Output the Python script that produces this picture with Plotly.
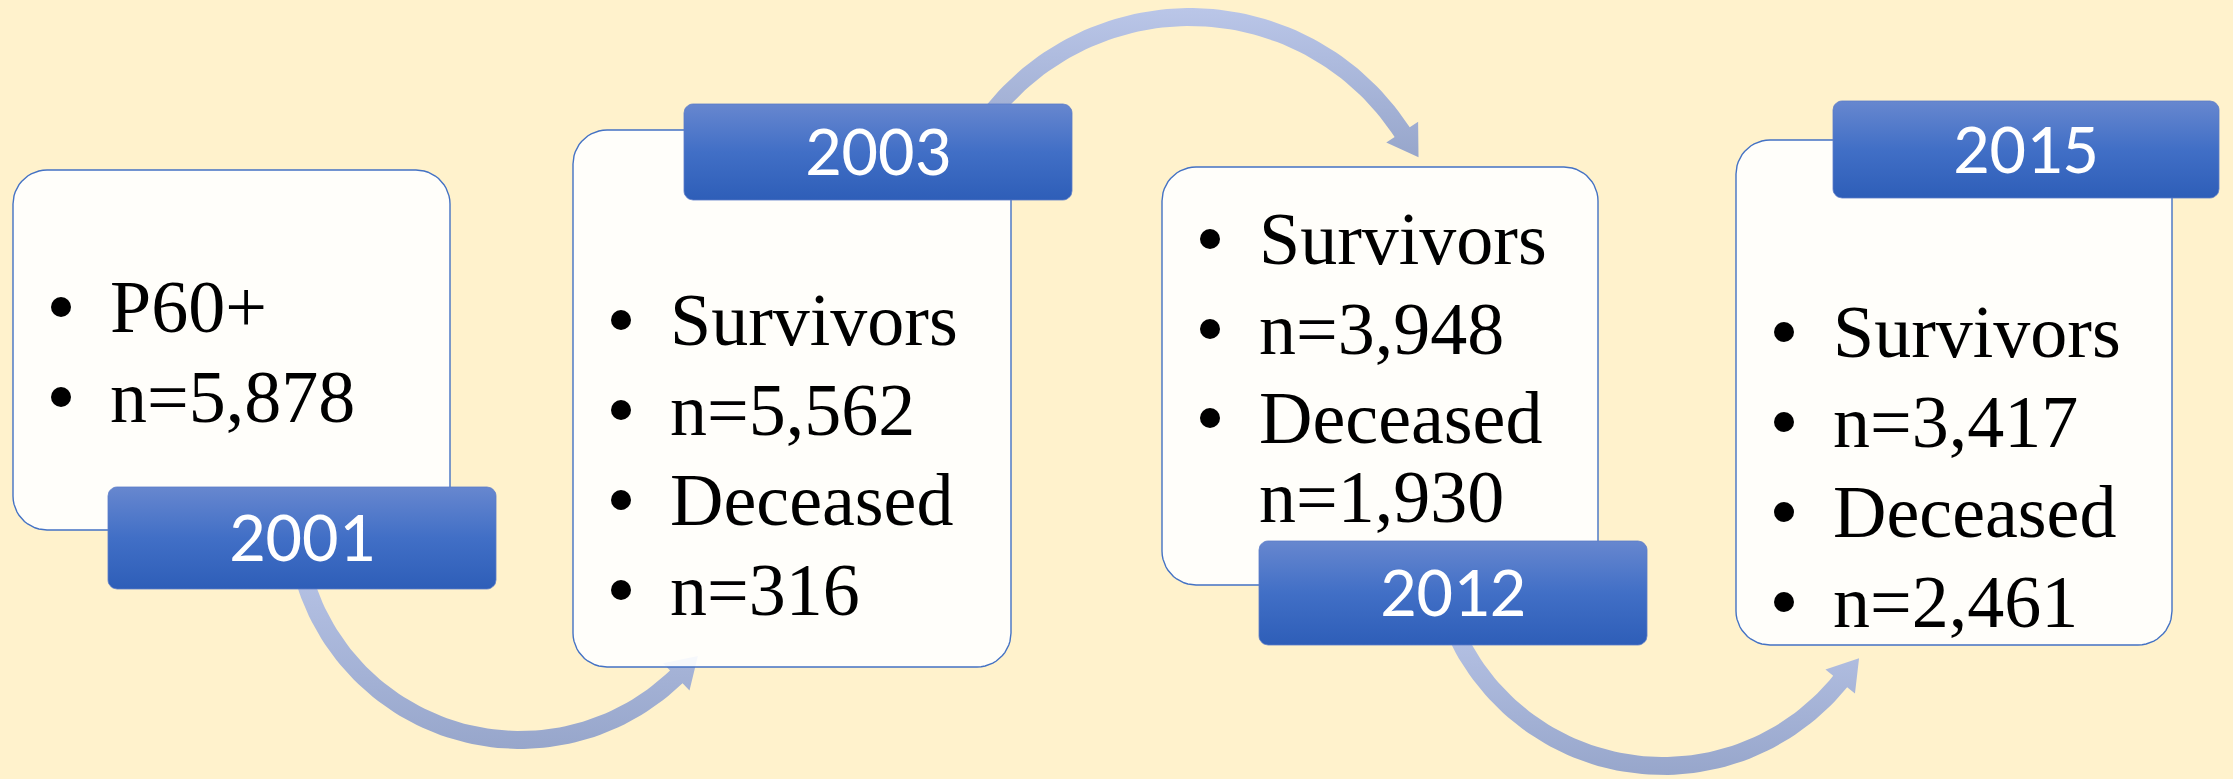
import numpy as np
import plotly.graph_objects as go

# ---------------- data ----------------
years = ["2001", "2003", "2012", "2015"]
box1_items = ["P60+", "n=5,878"]
box2_items = ["Survivors", "n=5,562", "Deceased", "n=316"]
box3_items = ["Survivors", "n=3,948", "Deceased", "n=1,930"]
box4_items = ["Survivors", "n=3,417", "Deceased", "n=2,461"]
box_items = [box1_items, box2_items, box3_items, box4_items]

# ---------------- layout (pixel geometry) ----------------
W, H = 2233, 779
BG = "#FFF2CC"
box_rects = [(13, 170, 450, 530), (573, 130, 1011, 667),
             (1162, 167, 1598, 585), (1736, 140, 2172, 645)]
label_rects = [(108, 487, 496, 589), (684, 104, 1072, 200),
               (1259, 541, 1647, 645), (1833, 101, 2219, 198)]
# baselines of each text line, and whether the line carries a bullet
line_baselines = [[332, 422], [345, 435, 525, 615],
                  [264, 354, 443, 522], [357, 447, 537, 627]]
line_bullets = [[True, True], [True, True, True, True],
                [True, True, True, False], [True, True, True, True]]
# arrows: center x, center y, radius, start angle, end angle (deg, screen coords)
arrows = [(520, 515, 225, 172, 46), (1190, 270, 253, -147, -33),
          (1663, 538, 228, 162, 39)]

SERIF = "Liberation Serif, Times New Roman, serif"
SANS = "Carlito, Lato, Calibri, sans-serif"


def rrect(x0, y0, x1, y1, r, n=14):
    xs, ys = [], []
    corners = [((x0 + r, y0 + r), 180, 270), ((x1 - r, y0 + r), 270, 360),
               ((x1 - r, y1 - r), 0, 90), ((x0 + r, y1 - r), 90, 180)]
    for (cx, cy), a, b in corners:
        t = np.radians(np.linspace(a, b, n))
        xs += list(cx + r * np.cos(t))
        ys += list(cy + r * np.sin(t))
    xs.append(xs[0]); ys.append(ys[0])
    return xs, ys


def arc_arrow(cx, cy, r, a0, a1, w=18, hw=19, hl=30, n=80):
    s = 1 if a1 > a0 else -1
    t = np.radians(np.linspace(a0, a1, n))
    ro, ri = r + w / 2, r - w / 2
    xs = list(cx + ro * np.cos(t)); ys = list(cy + ro * np.sin(t))
    te = t[-1]
    ux, uy = np.cos(te), np.sin(te)
    tx, ty = s * -np.sin(te), s * np.cos(te)
    bx, by = cx + r * ux, cy + r * uy
    xs += [cx + (r + hw) * ux, bx + hl * tx, cx + (r - hw) * ux]
    ys += [cy + (r + hw) * uy, by + hl * ty, cy + (r - hw) * uy]
    xs += list(cx + ri * np.cos(t[::-1])); ys += list(cy + ri * np.sin(t[::-1]))
    xs.append(xs[0]); ys.append(ys[0])
    return xs, ys


fig = go.Figure()

# arrows (behind everything)
for cx, cy, r, a0, a1 in arrows:
    xs, ys = arc_arrow(cx, cy, r, a0, a1)
    fig.add_trace(go.Scatter(
        x=xs, y=ys, mode="lines", fill="toself", line=dict(width=0, color="rgba(0,0,0,0)"),
        fillgradient=dict(type="vertical", start=min(ys), stop=max(ys),
                          colorscale=[[0, "#BAC6E8"], [1, "#97A6CB"]]),
        hoverinfo="skip", showlegend=False))

# content boxes
for (x0, y0, x1, y1) in box_rects:
    xs, ys = rrect(x0, y0, x1, y1, 34)
    fig.add_trace(go.Scatter(
        x=xs, y=ys, mode="lines", fill="toself", fillcolor="rgba(255,255,255,0.9)",
        line=dict(width=1.4, color="#4472C4"), hoverinfo="skip", showlegend=False))

# year labels
for (x0, y0, x1, y1) in label_rects:
    xs, ys = rrect(x0, y0, x1, y1, 9, n=8)
    fig.add_trace(go.Scatter(
        x=xs, y=ys, mode="lines", fill="toself", line=dict(width=0.8, color="#5A7BC8"),
        fillgradient=dict(type="vertical", start=y0, stop=y1,
                          colorscale=[[0, "#6787CF"], [0.5, "#416FC6"], [1, "#2E5EB8"]]),
        hoverinfo="skip", showlegend=False))

annotations = []
for i, yr in enumerate(years):
    x0, y0, x1, y1 = label_rects[i]
    annotations.append(dict(x=(x0 + x1) / 2, y=(y0 + y1) / 2 - 2, text=yr, showarrow=False,
                            xanchor="center", yanchor="middle",
                            font=dict(family=SANS, size=72, color="white")))

bx_pts, by_pts = [], []
for i, items in enumerate(box_items):
    bx0 = box_rects[i][0]
    for j, txt in enumerate(items):
        yb = line_baselines[i][j]
        if line_bullets[i][j]:
            bx_pts.append(bx0 + 48)
            by_pts.append(yb - 25)
        annotations.append(dict(x=bx0 + 95, y=yb - 25, text=txt, showarrow=False,
                                xanchor="left", yanchor="middle",
                                font=dict(family=SERIF, size=74, color="black")))

# bullets
fig.add_trace(go.Scatter(x=bx_pts, y=by_pts, mode="markers",
                         marker=dict(size=20, color="black", line=dict(width=0)),
                         hoverinfo="skip", showlegend=False))

fig.update_layout(
    width=W, height=H, margin=dict(l=0, r=0, t=0, b=0),
    paper_bgcolor=BG, plot_bgcolor=BG,
    xaxis=dict(range=[0, W], visible=False, fixedrange=True),
    yaxis=dict(range=[H, 0], visible=False, fixedrange=True),
    annotations=annotations, showlegend=False,
)

fig.write_html("out.html", config={"displayModeBar": False, "responsive": False},
               post_script="document.body.style.margin='0';document.body.style.padding='0';"
                           "document.body.style.overflow='hidden';"
                           "document.body.style.background='" + BG + "';")
